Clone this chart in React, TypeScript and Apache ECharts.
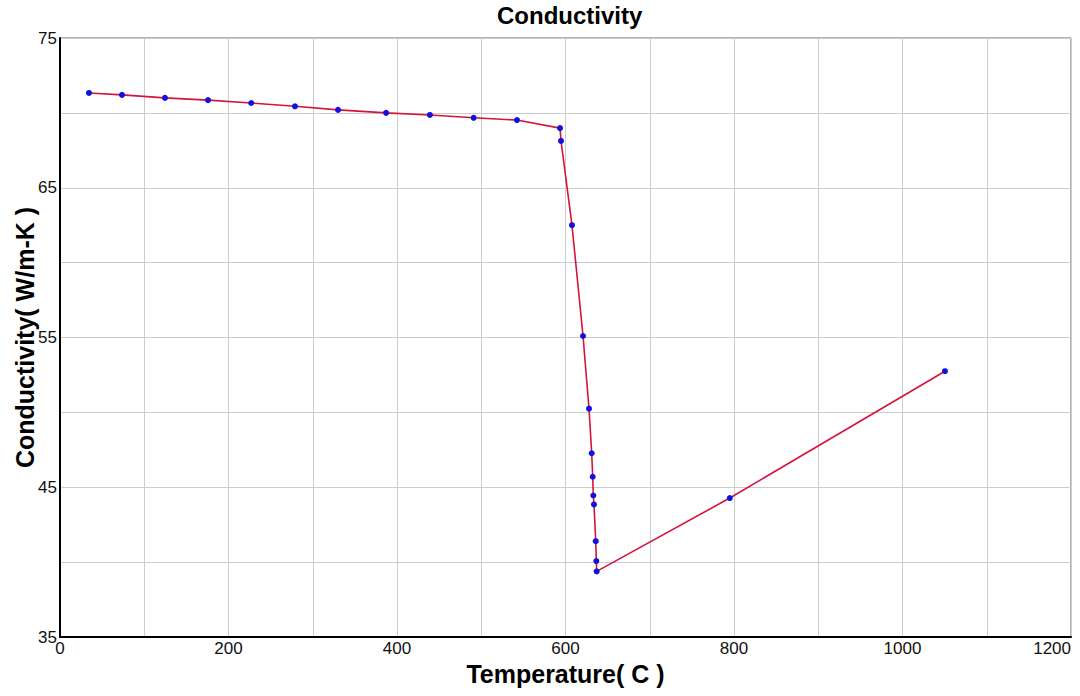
import React, { useEffect, useRef } from "react";
import * as echarts from "echarts";

const temperature = [34.4, 73.6, 124.6, 175.7, 227.0, 278.9, 330.0, 387.0, 439.0, 491.0, 542.4, 593.5, 594.7, 607.7, 620.8, 627.9, 631.1, 632.3, 633.0, 633.8, 635.9, 636.6, 637.0, 795.0, 1050.4];
const conductivity = [71.33, 71.2, 71.0, 70.85, 70.66, 70.44, 70.2, 70.0, 69.86, 69.67, 69.52, 68.98, 68.13, 62.5, 55.1, 50.25, 47.27, 45.7, 44.45, 43.85, 41.4, 40.07, 39.38, 44.28, 52.75];

const xTicks = [0, 200, 400, 600, 800, 1000, 1200];
const yTicks = [35, 45, 55, 65, 75];

export default function App() {
  const ref = useRef<HTMLDivElement>(null);
  useEffect(() => {
    const chart = echarts.init(ref.current!, null, { renderer: "svg" });
    const font = "'Liberation Sans', Arial, sans-serif";
    chart.setOption({
      animation: false,
      backgroundColor: "#ffffff",
      title: {
        text: "Conductivity",
        left: 492,
        top: -2,
        textStyle: { fontFamily: font, fontSize: 24, fontWeight: "bold", color: "#000" },
      },
      grid: {
        left: 60,
        right: 9,
        top: 38,
        bottom: 59,
        show: true,
        borderColor: "#666",
        borderWidth: 1,
        containLabel: false,
        outerBoundsMode: "none",
      },
      xAxis: {
        type: "value",
        min: 0,
        max: 1200,
        interval: 100,
        name: "Temperature( C )",
        nameLocation: "middle",
        nameGap: 24,
        nameMoveOverlap: false,
        nameTextStyle: { fontFamily: font, fontSize: 25, fontWeight: "bold", color: "#000" },
        axisLine: { show: true, lineStyle: { color: "#000", width: 2 } },
        axisTick: { show: false },
        axisLabel: {
          fontFamily: font,
          fontSize: 17,
          color: "#111",
          margin: 3,
          alignMaxLabel: "right",
          formatter: (v: number) => (xTicks.includes(v) ? String(v) : ""),
        },
        splitLine: { show: true, lineStyle: { color: "#cccccc", width: 1 } },
      },
      yAxis: {
        type: "value",
        min: 35,
        max: 75,
        interval: 5,
        name: "Conductivity( W/m-K )",
        nameLocation: "middle",
        nameGap: 23,
        nameMoveOverlap: false,
        nameTextStyle: { fontFamily: font, fontSize: 25, fontWeight: "bold", color: "#000" },
        axisLine: { show: true, lineStyle: { color: "#000", width: 2 } },
        axisTick: { show: false },
        axisLabel: {
          fontFamily: font,
          fontSize: 17,
          color: "#111",
          margin: 3,
          formatter: (v: number) => (yTicks.includes(v) ? String(v) : ""),
        },
        splitLine: { show: true, lineStyle: { color: "#cccccc", width: 1 } },
      },
      series: [
        {
          type: "line",
          data: temperature.map((t, i) => [t, conductivity[i]]),
          symbol: "circle",
          symbolSize: 6,
          showSymbol: true,
          lineStyle: { color: "#d4143c", width: 1.6 },
          itemStyle: { color: "#1010e0", borderWidth: 0 },
          z: 3,
        },
      ],
    });
    return () => chart.dispose();
  }, []);
  return <div ref={ref} style={{ position: "fixed", left: 0, top: 0, width: 1080, height: 696 }} />;
}
